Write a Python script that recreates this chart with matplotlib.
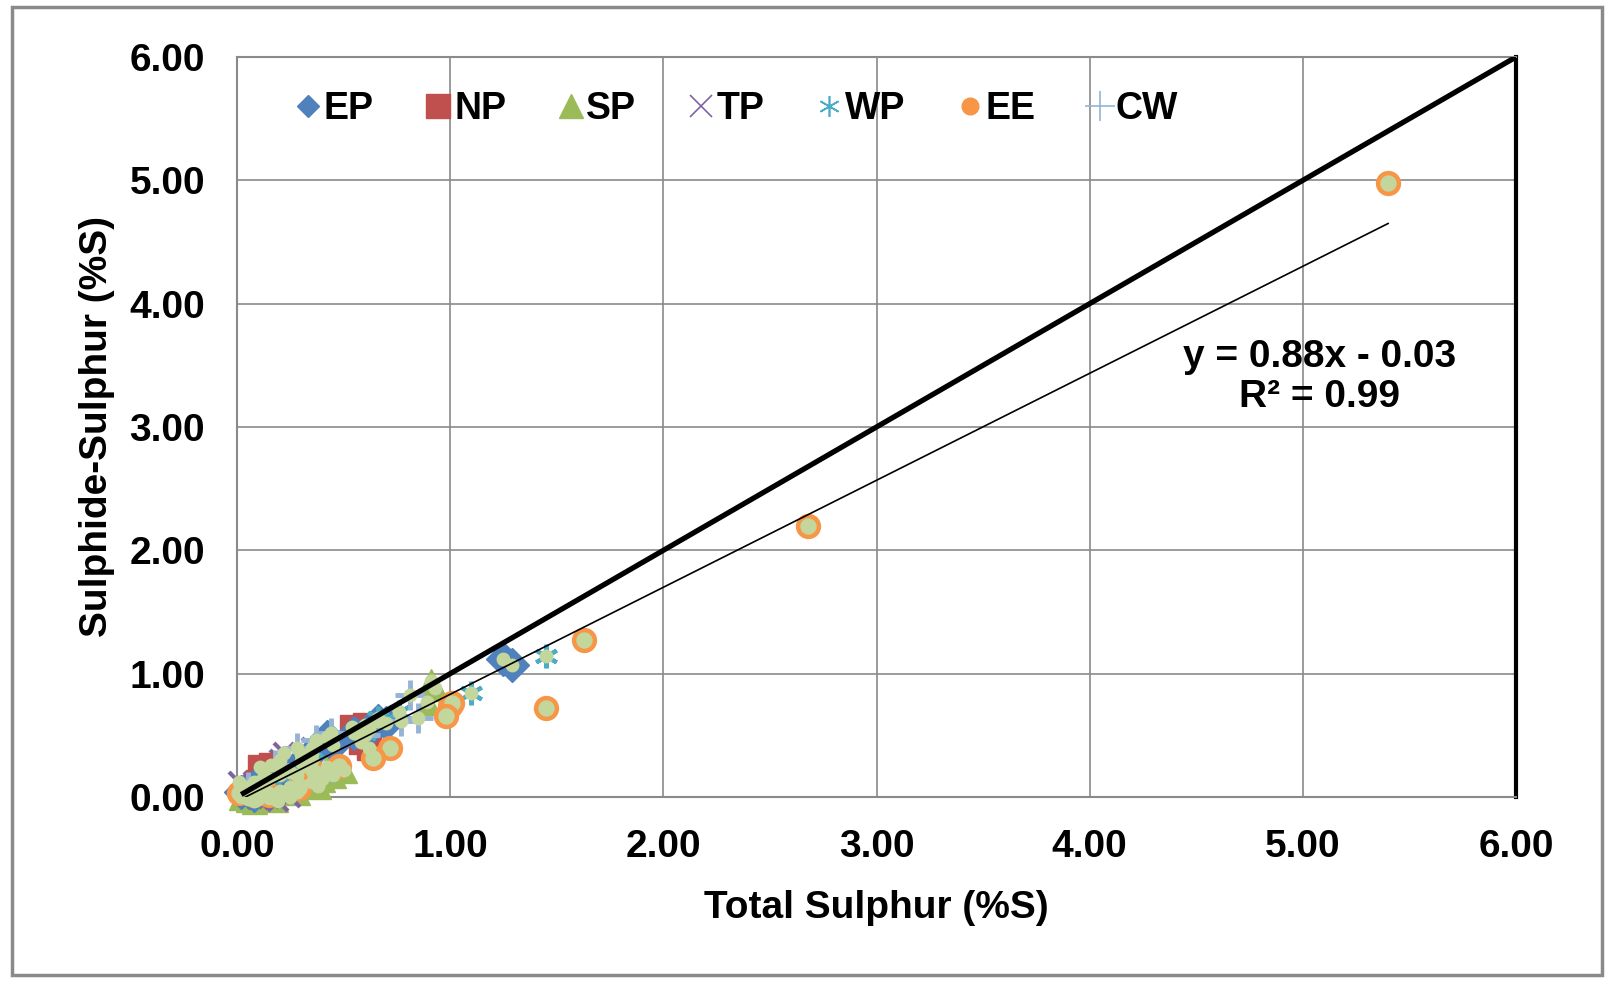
import matplotlib
matplotlib.use("Agg")
import matplotlib.pyplot as plt
from matplotlib.lines import Line2D
from matplotlib.patches import Rectangle

plt.rcParams['font.family'] = ['Liberation Sans', 'DejaVu Sans']
plt.rcParams['font.weight'] = 'bold'

# ---- data (Total S, Sulphide S) ----
ep_x = [0.02, 0.05, 0.12, 0.10, 0.20, 0.30, 0.42, 0.45, 0.55, 0.62, 0.70, 0.66, 1.25, 1.29, 0.35, 0.08]
ep_y = [0.04, 0.05, 0.08, 0.12, 0.20, 0.28, 0.49, 0.42, 0.52, 0.55, 0.60, 0.62, 1.12, 1.07, 0.36, 0.02]

np_x = [0.54, 0.60, 0.58, 0.62, 0.11, 0.16, 0.20, 0.10]
np_y = [0.57, 0.58, 0.45, 0.40, 0.24, 0.26, 0.18, 0.12]

sp_x = [0.02, 0.05, 0.10, 0.15, 0.20, 0.25, 0.30, 0.35, 0.40, 0.45, 0.50, 0.12, 0.25, 0.91, 0.93, 0.89,
        0.05, 0.32, 0.08, 0.18, 0.28, 0.38, 0.42]
sp_y = [0.00, -0.02, 0.02, 0.03, 0.05, 0.08, 0.10, 0.12, 0.15, 0.18, 0.22, 0.10, 0.20, 0.94, 0.88, 0.77,
        0.05, 0.25, -0.03, -0.02, 0.04, 0.09, 0.24]

tp_x = [0.01, 0.08, 0.12, 0.20, 0.22, 0.30, 0.15, 0.19, 0.25, 0.05, 0.35, 0.10]
tp_y = [0.12, 0.12, 0.22, 0.30, 0.36, 0.35, -0.01, -0.03, 0.00, 0.02, 0.40, -0.02]

wp_x = [1.45, 1.10, 0.76, 0.60, 0.35, 0.15, 0.05, 0.45, 0.66, 0.28]
wp_y = [1.14, 0.84, 0.69, 0.52, 0.30, 0.15, 0.06, 0.22, 0.64, 0.18]

ee_x = [5.40, 2.68, 1.63, 1.45, 1.00, 1.01, 0.98, 0.72, 0.64, 0.48, 0.29, 0.01, 0.15, 0.36, 0.08]
ee_y = [4.98, 2.20, 1.27, 0.72, 0.74, 0.76, 0.66, 0.40, 0.32, 0.25, 0.07, 0.03, 0.02, 0.20, 0.02]

cw_x = [0.85, 0.81, 0.28, 0.37, 0.44, 0.77, 0.05, 0.12, 0.18, 0.60]
cw_y = [0.64, 0.83, 0.40, 0.46, 0.52, 0.62, 0.08, 0.15, 0.26, 0.50]

one_x = [0.02, 6.0]
one_y = [0.02, 6.0]
trend_x = [0.04, 5.40]
trend_y = [0.00, 4.65]

equation = "y = 0.88x - 0.03"
r2_text = "R² = 0.99"
ticks = [0, 1, 2, 3, 4, 5, 6]
tick_labels = ["0.00", "1.00", "2.00", "3.00", "4.00", "5.00", "6.00"]

c_ep, c_np, c_sp, c_tp, c_wp, c_ee, c_cw = '#4f81bd', '#c0504d', '#9bbb59', '#8064a2', '#4bacc6', '#f79646', '#95b3d7'
c_fill = '#c3d69b'

fig = plt.figure(figsize=(16.05, 9.84), dpi=100)
ax = fig.add_axes([237/1605, 1-797/984, (1516-237)/1605, (797-57)/984])

kw = dict(linestyle='none', clip_on=False)
ax.plot(sp_x, sp_y, marker='^', ms=18, color=c_sp, mec=c_sp, zorder=3, **kw)
ax.plot(tp_x, tp_y, marker='x', ms=14, color=c_tp, mew=3, zorder=3, **kw)
ax.plot(np_x, np_y, marker='s', ms=17, color=c_np, zorder=3, **kw)
ax.plot(ep_x, ep_y, marker='D', ms=17, color=c_ep, zorder=3, **kw)
ax.plot(wp_x, wp_y, marker=(6, 2, 0), ms=17, color=c_wp, mew=3, zorder=3, **kw)
ax.plot(cw_x, cw_y, marker='+', ms=22, color=c_cw, mew=3.5, zorder=3, **kw)
ax.plot(ee_x, ee_y, marker='o', ms=15, mfc=c_fill, mec=c_ee, mew=3.2, zorder=4, **kw)
# light fill dots on every point
for xs, ys in [(ep_x, ep_y), (np_x, np_y), (sp_x, sp_y), (tp_x, tp_y), (wp_x, wp_y), (cw_x, cw_y)]:
    ax.plot(xs, ys, marker='o', ms=10, mfc=c_fill, mec='none', zorder=4, **kw)

ax.plot(one_x, one_y, color='black', lw=3.8, zorder=6, solid_capstyle='butt')
ax.plot(trend_x, trend_y, color='black', lw=1.2, zorder=6)

ax.text(5.08, 3.57, equation, ha='center', va='center', fontsize=28, fontweight='bold')
ax.text(5.08, 3.24, r2_text, ha='center', va='center', fontsize=28, fontweight='bold')

ax.set_xlim(0, 6)
ax.set_ylim(0, 6)
ax.set_xticks(ticks)
ax.set_yticks(ticks)
ax.set_xticklabels(tick_labels)
ax.set_yticklabels(tick_labels)
ax.tick_params(length=0, labelsize=28, pad=23)
for lab in ax.get_xticklabels() + ax.get_yticklabels():
    lab.set_fontweight('bold')
ax.grid(True, color='#8a8a8a', lw=1.2)
ax.set_axisbelow(True)
for s in ['left', 'bottom', 'top']:
    ax.spines[s].set_color('#8a8a8a')
    ax.spines[s].set_linewidth(1.5)
ax.spines['right'].set_color('black')
ax.spines['right'].set_linewidth(3)

ax.set_xlabel("Total Sulphur (%S)", fontsize=28, fontweight='bold', labelpad=18)
ax.set_ylabel("Sulphide-Sulphur (%S)", fontsize=28, fontweight='bold', labelpad=10)

handles = [
    Line2D([], [], linestyle='none', marker='D', ms=11, color=c_ep),
    Line2D([], [], linestyle='none', marker='s', ms=17, color=c_np),
    Line2D([], [], linestyle='none', marker='^', ms=17, color=c_sp),
    Line2D([], [], linestyle='none', marker='x', ms=16, color=c_tp, mew=1.2),
    Line2D([], [], linestyle='none', marker=(6, 2, 0), ms=15, color=c_wp, mew=1.2),
    Line2D([], [], linestyle='none', marker='o', ms=12, color=c_ee),
    Line2D([], [], linestyle='none', marker='+', ms=22, color=c_cw, mew=1.2),
]
labels = ["EP", "NP", "SP", "TP", "WP", "EE", "CW"]
leg = ax.legend(handles, labels, ncol=7, loc='center left', bbox_to_anchor=(0.035, 0.93),
                frameon=False, fontsize=27, handlelength=0.6, handletextpad=0.12,
                columnspacing=1.42, borderaxespad=0)
for t in leg.get_texts():
    t.set_fontweight('bold')

fig.patches.append(Rectangle((12/1605, 9/984), (1602-12)/1605, (977-9)/984, transform=fig.transFigure,
                             fill=False, edgecolor='#8a8a8a', lw=2.5))

fig.savefig('out.png', dpi=100)
